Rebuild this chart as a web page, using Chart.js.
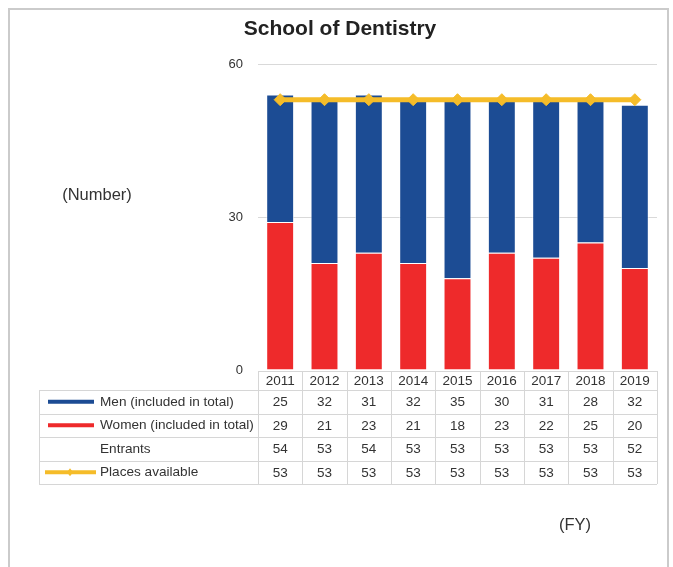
<!DOCTYPE html>
<html>
<head>
<meta charset="utf-8">
<script src="https://cdn.jsdelivr.net/npm/chart.js@4/dist/chart.umd.min.js"></script>
<style>
  html, body { margin: 0; padding: 0; background: #fff; }
  #wrap { position: relative; width: 673px; height: 567px; }
</style>
</head>
<body>
<div id="wrap"><canvas id="chart" width="673" height="567"></canvas></div>
<script>
const years = ['2011', '2012', '2013', '2014', '2015', '2016', '2017', '2018', '2019'];
const men = [25, 32, 31, 32, 35, 30, 31, 28, 32];
const women = [29, 21, 23, 21, 18, 23, 22, 25, 20];
const entrants = [54, 53, 54, 53, 53, 53, 53, 53, 52];
const places = [53, 53, 53, 53, 53, 53, 53, 53, 53];
const yTicks = [0, 30, 60];

const BLUE = '#1c4c94';
const RED = '#ee2a2b';
const YELLOW = '#f5bc29';
const TEXT = '#333';
const FONT = '"Liberation Sans", Arial, sans-serif';

// table rows under the plot, in the order shown
const tableRows = [
    { label: 'Men (included in total)', values: men, mark: 'bar', color: BLUE },
    { label: 'Women (included in total)', values: women, mark: 'bar', color: RED },
    { label: 'Entrants', values: entrants, mark: null },
    { label: 'Places available', values: places, mark: 'line', color: YELLOW }
];

const extras = {
    id: 'extras',
    afterDraw(chart) {
        const ctx = chart.ctx;
        const x = chart.scales.x;
        const half = (x.getPixelForValue(1) - x.getPixelForValue(0)) / 2;
        const left = x.getPixelForValue(0) - half;
        const right = x.getPixelForValue(years.length - 1) + half;
        const tableLeft = 39;
        const headTop = 371, headBottom = 390, rowH = 23.5;
        ctx.save();

        // outer frame
        ctx.strokeStyle = '#cbcbcb';
        ctx.lineWidth = 2;
        ctx.strokeRect(9, 9, 659, 600);

        // title
        ctx.fillStyle = '#222';
        ctx.font = 'bold 21px ' + FONT;
        ctx.textAlign = 'center';
        ctx.textBaseline = 'middle';
        ctx.fillText('School of Dentistry', 340, 29);

        ctx.strokeStyle = '#d6d6d6';
        ctx.lineWidth = 1;
        const bottom = headBottom + rowH * tableRows.length;
        // horizontal lines
        ctx.beginPath();
        ctx.moveTo(left, headTop + 0.5); ctx.lineTo(right, headTop + 0.5);
        for (let r = 0; r <= tableRows.length; r++) {
            const yy = Math.round(headBottom + r * rowH) + 0.5;
            ctx.moveTo(tableLeft, yy); ctx.lineTo(right, yy);
        }
        // vertical lines
        ctx.moveTo(tableLeft + 0.5, headBottom); ctx.lineTo(tableLeft + 0.5, bottom);
        for (let i = 0; i <= years.length; i++) {
            const xx = Math.round(left + i * half * 2) + 0.5;
            ctx.moveTo(xx, headTop); ctx.lineTo(xx, bottom);
        }
        ctx.stroke();

        ctx.fillStyle = TEXT;
        ctx.font = '13.5px ' + FONT;
        ctx.textAlign = 'center';
        years.forEach((yr, i) => ctx.fillText(yr, x.getPixelForValue(i), (headTop + headBottom) / 2 + 1));

        tableRows.forEach((row, r) => {
            const cy = headBottom + r * rowH + rowH / 2;
            ctx.fillStyle = TEXT;
            ctx.textAlign = 'center';
            ctx.font = '13.5px ' + FONT;
            row.values.forEach((v, i) => ctx.fillText(String(v), x.getPixelForValue(i), cy + 1));
            ctx.textAlign = 'left';
            ctx.font = '13.6px ' + FONT;
            ctx.fillText(row.label, 100, cy);
            if (row.mark === 'bar') {
                ctx.fillStyle = row.color;
                ctx.fillRect(48, cy - 2, 46, 4);
            } else if (row.mark === 'line') {
                ctx.strokeStyle = row.color;
                ctx.lineWidth = 4;
                ctx.beginPath();
                ctx.moveTo(45, cy); ctx.lineTo(96, cy);
                ctx.stroke();
                ctx.fillStyle = row.color;
                ctx.beginPath();
                ctx.moveTo(70, cy - 4); ctx.lineTo(73, cy); ctx.lineTo(70, cy + 4); ctx.lineTo(67, cy);
                ctx.closePath();
                ctx.fill();
            }
        });

        // axis captions
        ctx.fillStyle = TEXT;
        ctx.font = '16.5px ' + FONT;
        ctx.textAlign = 'center';
        ctx.fillText('(Number)', 97, 195);
        ctx.fillText('(FY)', 575, 525);
        ctx.restore();
    }
};

new Chart(document.getElementById('chart'), {
    type: 'bar',
    data: {
        labels: years,
        datasets: [
            { type: 'line', label: 'Places available', data: places, borderColor: YELLOW, backgroundColor: YELLOW,
              borderWidth: 5, pointStyle: 'rectRot', pointRadius: 6, pointBorderWidth: 1, pointHoverRadius: 6,
              order: 0, stack: 'places' },
            { label: 'Women (included in total)', data: women, backgroundColor: RED,
              borderColor: 'rgba(255,255,255,0.6)', borderWidth: 1, order: 1, stack: 'total' },
            { label: 'Men (included in total)', data: men, backgroundColor: BLUE,
              borderColor: 'rgba(255,255,255,0.6)', borderWidth: 1, order: 1, stack: 'total' }
        ]
    },
    options: {
        responsive: false,
        animation: false,
        layout: { padding: { top: 64, right: 16, bottom: 197, left: 0 } },
        categoryPercentage: 1,
        barPercentage: 0.63,
        plugins: {
            legend: { display: false },
            tooltip: { enabled: false },
            title: { display: false }
        },
        scales: {
            x: { display: false, stacked: true },
            y: {
                stacked: true,
                min: 0, max: 60,
                afterBuildTicks: s => { s.ticks = yTicks.map(v => ({ value: v })); },
                afterFit: s => { s.width = 258; },
                border: { display: false },
                grid: { color: ctx => ctx.tick.value === 0 ? 'rgba(0,0,0,0)' : '#d9d9d9', drawTicks: false },
                ticks: { padding: 15, color: TEXT, font: { family: FONT, size: 13 } }
            }
        }
    },
    plugins: [extras]
});
</script>
</body>
</html>
